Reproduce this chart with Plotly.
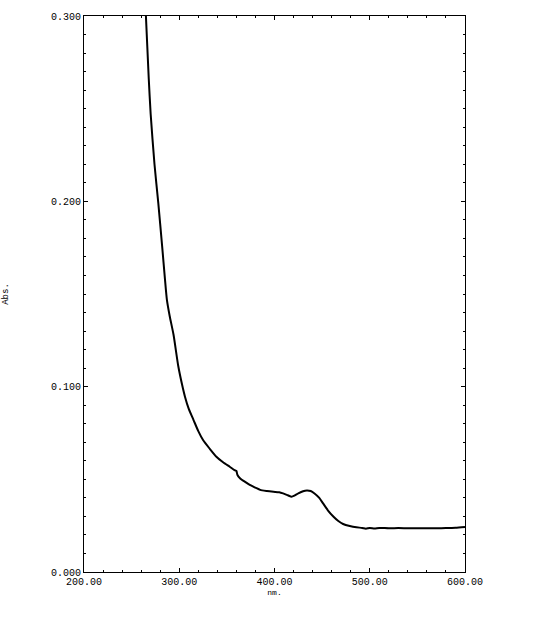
import plotly.graph_objects as go

# spectrum (wavelength nm, absorbance)
wavelength = [255, 260, 265, 268, 270, 274, 278, 282, 285, 287, 290, 294, 299, 303,
              306, 310, 315, 320, 325, 332, 339, 346, 353, 358, 360, 361, 364, 368,
              374, 380, 385, 392, 399, 405, 409, 414, 418, 421, 425, 430, 434, 438,
              442, 447, 451, 456, 462, 467, 472, 479, 486, 492, 496, 500, 505, 510,
              520, 530, 540, 550, 560, 570, 580, 590, 600]
absorbance = [0.420, 0.350, 0.300, 0.266, 0.247, 0.220, 0.199, 0.176, 0.158, 0.147,
              0.138, 0.128, 0.111, 0.101, 0.0946, 0.088, 0.082, 0.076, 0.0712, 0.0665,
              0.0622, 0.0592, 0.0568, 0.0550, 0.0545, 0.0525, 0.0505, 0.0490, 0.0470,
              0.0455, 0.0443, 0.0437, 0.0433, 0.0430, 0.0424, 0.0414, 0.0406, 0.0412,
              0.0424, 0.0436, 0.0440, 0.0437, 0.0424, 0.0400, 0.0370, 0.0333, 0.0298,
              0.0275, 0.0259, 0.0248, 0.0241, 0.0238, 0.0234, 0.0238, 0.0235, 0.0238,
              0.0236, 0.0237, 0.0236, 0.0236, 0.0236, 0.0236, 0.0237, 0.0239, 0.0243]

x_ticks = [200, 300, 400, 500, 600]
x_labels = ["200.00", "300.00", "400.00", "500.00", "600.00"]
y_ticks = [0.0, 0.1, 0.2, 0.3]
y_labels = ["0.000", "0.100", "0.200", "0.300"]

mono = "Liberation Mono, DejaVu Sans Mono, monospace"

fig = go.Figure(go.Scatter(
    x=wavelength, y=absorbance, mode="lines",
    line=dict(color="black", width=2, shape="spline", smoothing=0.6), showlegend=False,
))

axis_common = dict(
    showline=True, linecolor="black", linewidth=1, mirror="ticks",
    ticks="inside", ticklen=4, tickcolor="black", tickwidth=1,
    showgrid=False, zeroline=False, automargin=False,
    tickfont=dict(family=mono, size=10, color="black"),
)

fig.update_xaxes(
    range=[200, 600], tickvals=x_ticks, ticktext=x_labels,
    minor=dict(dtick=20, tick0=200, ticks="inside", ticklen=2, tickcolor="black", showgrid=False),
    title=dict(text="nm.", font=dict(family=mono, size=8, color="black"), standoff=2),
    **axis_common,
)
fig.update_yaxes(
    range=[0, 0.3], tickvals=y_ticks, ticktext=y_labels,
    minor=dict(dtick=0.01, tick0=0, ticks="inside", ticklen=2, tickcolor="black", showgrid=False),
    title=dict(text="Abs.", font=dict(family=mono, size=9, color="black"), standoff=40),
    **axis_common,
)

fig.update_layout(
    width=546, height=629,
    margin=dict(l=84, r=81, t=16, b=57),
    plot_bgcolor="white", paper_bgcolor="white",
)

# drop the default page margin so the figure sits at the window origin
fig.write_html("out.html", config={"displayModeBar": False},
               post_script="document.body.style.margin='0';")
